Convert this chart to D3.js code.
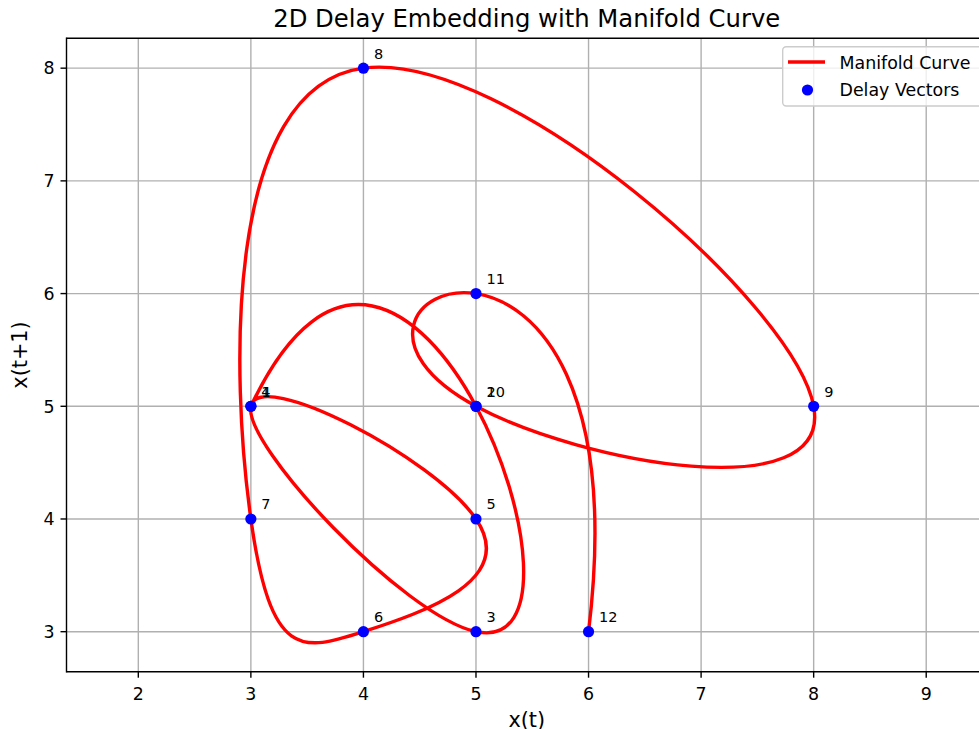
<!DOCTYPE html>
<html>
<head>
<meta charset="utf-8">
<script src="https://cdn.jsdelivr.net/npm/d3@7"></script>
<style>
  html, body { margin: 0; padding: 0; background: #fff; overflow: hidden; }
  svg { display: block; font-family: "DejaVu Sans", sans-serif; }
</style>
</head>
<body>
<svg id="chart" width="979" height="729"></svg>
<script>
// ---- data ----
const delayX = [3, 5, 5, 3, 5, 4, 3, 4, 8, 5, 5, 6];   // x(t)
const delayY = [5, 5, 3, 5, 4, 3, 4, 8, 5, 5, 6, 3];   // x(t+1)
const pointLabels = ["1","2","3","4","5","6","7","8","9","10","11","12"];
const xTicks = [2, 3, 4, 5, 6, 7, 8, 9];
const yTicks = [3, 4, 5, 6, 7, 8];
const titleText = "2D Delay Embedding with Manifold Curve";
const xLabelText = "x(t)";
const yLabelText = "x(t+1)";
const legendLabels = ["Manifold Curve", "Delay Vectors"];

// ---- layout ----
const W = 979, H = 729;
const plot = { left: 66.5, right: 987, top: 38.3, bottom: 671.7 };
const x = d3.scaleLinear().domain([1.362, 9.54]).range([plot.left, plot.right]);
const y = d3.scaleLinear().domain([2.645, 8.265]).range([plot.bottom, plot.top]);

const svg = d3.select("#chart");
svg.append("rect").attr("width", W).attr("height", H).attr("fill", "#fff");

// not-a-knot cubic spline curve (uniform parameter), as a d3 curve factory
function splineControls(v) {
  const n = v.length;
  const A = Array.from({ length: n }, () => new Array(n).fill(0));
  const b = new Array(n).fill(0);
  A[0][0] = 1; A[0][1] = -2; A[0][2] = 1;
  for (let i = 1; i < n - 1; i++) {
    A[i][i - 1] = 1; A[i][i] = 4; A[i][i + 1] = 1;
    b[i] = 6 * (v[i - 1] - 2 * v[i] + v[i + 1]);
  }
  A[n - 1][n - 3] = 1; A[n - 1][n - 2] = -2; A[n - 1][n - 1] = 1;
  // gaussian elimination
  for (let c = 0; c < n; c++) {
    let p = c;
    for (let r = c + 1; r < n; r++) if (Math.abs(A[r][c]) > Math.abs(A[p][c])) p = r;
    [A[c], A[p]] = [A[p], A[c]]; [b[c], b[p]] = [b[p], b[c]];
    for (let r = c + 1; r < n; r++) {
      const f = A[r][c] / A[c][c];
      if (!f) continue;
      for (let k = c; k < n; k++) A[r][k] -= f * A[c][k];
      b[r] -= f * b[c];
    }
  }
  const M = new Array(n).fill(0);
  for (let r = n - 1; r >= 0; r--) {
    let s = b[r];
    for (let k = r + 1; k < n; k++) s -= A[r][k] * M[k];
    M[r] = s / A[r][r];
  }
  const c1 = [], c2 = [];
  for (let i = 0; i < n - 1; i++) {
    const d = v[i + 1] - v[i];
    const D0 = d - (2 * M[i] + M[i + 1]) / 6;
    const D1 = d + (M[i] + 2 * M[i + 1]) / 6;
    c1.push(v[i] + D0 / 3);
    c2.push(v[i + 1] - D1 / 3);
  }
  return [c1, c2];
}
function curveNotAKnot(context) {
  let xs, ys;
  return {
    areaStart() {}, areaEnd() {},
    lineStart() { xs = []; ys = []; },
    point(px, py) { xs.push(+px); ys.push(+py); },
    lineEnd() {
      const n = xs.length;
      if (!n) return;
      context.moveTo(xs[0], ys[0]);
      if (n < 4) { for (let i = 1; i < n; i++) context.lineTo(xs[i], ys[i]); return; }
      const cx = splineControls(xs), cy = splineControls(ys);
      for (let i = 0; i < n - 1; i++)
        context.bezierCurveTo(cx[0][i], cy[0][i], cx[1][i], cy[1][i], xs[i + 1], ys[i + 1]);
    }
  };
}

// ---- grid ----
const grid = svg.append("g");
grid.selectAll(".gx").data(xTicks).join("line")
  .attr("x1", d => x(d)).attr("x2", d => x(d))
  .attr("y1", plot.top).attr("y2", plot.bottom)
  .attr("stroke", "#b0b0b0").attr("stroke-width", 1.4);
grid.selectAll(".gy").data(yTicks).join("line")
  .attr("x1", plot.left).attr("x2", plot.right)
  .attr("y1", d => y(d)).attr("y2", d => y(d))
  .attr("stroke", "#b0b0b0").attr("stroke-width", 1.4);

// ---- manifold curve ----
const pts = delayX.map((d, i) => [d, delayY[i]]);
const line = d3.line().x(d => x(d[0])).y(d => y(d[1])).curve(curveNotAKnot);
svg.append("path").attr("d", line(pts))
  .attr("fill", "none").attr("stroke", "#ff0000").attr("stroke-width", 3.4)
  .attr("stroke-linejoin", "round").attr("stroke-linecap", "square");

// ---- points ----
svg.append("g").selectAll("circle").data(pts).join("circle")
  .attr("cx", d => x(d[0])).attr("cy", d => y(d[1])).attr("r", 5.6)
  .attr("fill", "#0000ff");

// ---- point labels ----
svg.append("g").selectAll("text").data(pts).join("text")
  .attr("x", d => x(d[0]) + 10.5).attr("y", d => y(d[1]) - 9.5)
  .attr("font-size", 14.5).attr("fill", "#000")
  .text((d, i) => pointLabels[i]);

// ---- axes frame ----
const axG = svg.append("g");
axG.append("line").attr("x1", plot.left).attr("x2", plot.left).attr("y1", plot.top - 0.7).attr("y2", plot.bottom + 0.7)
  .attr("stroke", "#000").attr("stroke-width", 1.4);
axG.append("line").attr("x1", plot.left).attr("x2", plot.right).attr("y1", plot.bottom).attr("y2", plot.bottom)
  .attr("stroke", "#000").attr("stroke-width", 1.4);
axG.append("line").attr("x1", plot.left).attr("x2", plot.right).attr("y1", plot.top).attr("y2", plot.top)
  .attr("stroke", "#000").attr("stroke-width", 1.4);

// x ticks
axG.selectAll(".xt").data(xTicks).join("line")
  .attr("x1", d => x(d)).attr("x2", d => x(d))
  .attr("y1", plot.bottom).attr("y2", plot.bottom + 6)
  .attr("stroke", "#000").attr("stroke-width", 1.4);
axG.selectAll(".xtl").data(xTicks).join("text")
  .attr("x", d => x(d)).attr("y", 699.5)
  .attr("text-anchor", "middle").attr("font-size", 17.4).attr("fill", "#000")
  .text(d => d);
// y ticks
axG.selectAll(".yt").data(yTicks).join("line")
  .attr("x1", plot.left - 6).attr("x2", plot.left)
  .attr("y1", d => y(d)).attr("y2", d => y(d))
  .attr("stroke", "#000").attr("stroke-width", 1.4);
axG.selectAll(".ytl").data(yTicks).join("text")
  .attr("x", 54.5).attr("y", d => y(d) + 6.3)
  .attr("text-anchor", "end").attr("font-size", 17.4).attr("fill", "#000")
  .text(d => d);

// ---- titles ----
const cx = (plot.left + plot.right) / 2;
svg.append("text").attr("x", cx).attr("y", 26.5)
  .attr("text-anchor", "middle").attr("font-size", 24.3).attr("fill", "#000")
  .text(titleText);
svg.append("text").attr("x", cx).attr("y", 727)
  .attr("text-anchor", "middle").attr("font-size", 20.8).attr("fill", "#000")
  .text(xLabelText);
svg.append("text").attr("transform", `translate(27,${(plot.top + plot.bottom) / 2}) rotate(-90)`)
  .attr("text-anchor", "middle").attr("font-size", 20.8).attr("fill", "#000")
  .text(yLabelText);

// ---- legend ----
const lg = svg.append("g");
lg.append("rect").attr("x", 782.7).attr("y", 46.7).attr("width", 200).attr("height", 59.3)
  .attr("rx", 3.5).attr("fill", "#fff").attr("fill-opacity", 0.8)
  .attr("stroke", "#cccccc").attr("stroke-width", 1.4);
lg.append("line").attr("x1", 788).attr("x2", 825).attr("y1", 62).attr("y2", 62)
  .attr("stroke", "#ff0000").attr("stroke-width", 3.4);
lg.append("circle").attr("cx", 807.5).attr("cy", 90).attr("r", 5.6).attr("fill", "#0000ff");
lg.selectAll(".lt").data(legendLabels).join("text")
  .attr("x", 839.5).attr("y", (d, i) => 68.5 + i * 27.5)
  .attr("font-size", 17.4).attr("fill", "#000")
  .text(d => d);
</script>
</body>
</html>
